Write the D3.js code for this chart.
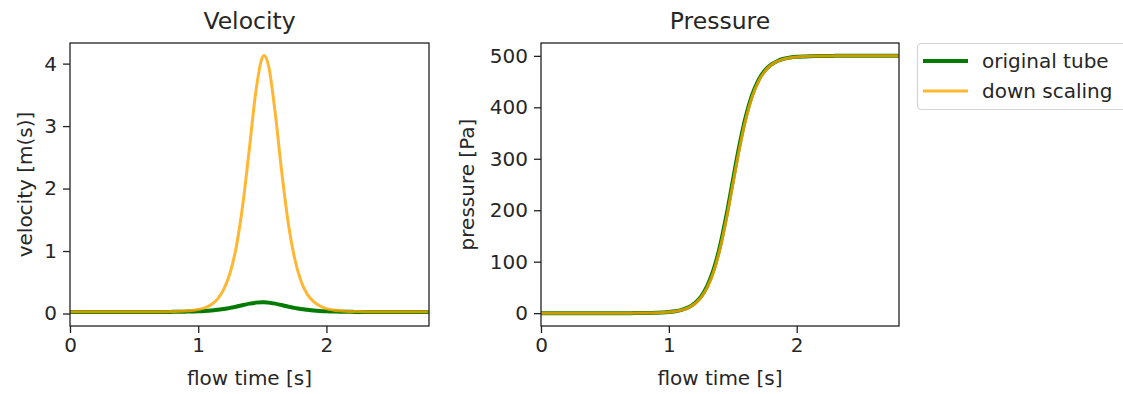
<!DOCTYPE html>
<html>
<head>
<meta charset="utf-8">
<script src="https://cdn.jsdelivr.net/npm/d3@7"></script>
<style>
  body { margin: 0; background: #fff; }
  svg { font-family: "DejaVu Sans", sans-serif; }
  .tick text { fill: #262626; }
</style>
</head>
<body>
<svg id="chart" width="1123" height="394"></svg>
<script>
// flow time samples [s]
const time = [0, 0.05, 0.1, 0.15, 0.2, 0.25, 0.3, 0.35, 0.4, 0.45, 0.5, 0.55, 0.6, 0.65, 0.7, 0.75,
  0.8, 0.85, 0.9, 0.95, 1.0, 1.05, 1.1, 1.15, 1.2, 1.25, 1.3, 1.35, 1.4, 1.45, 1.5, 1.515,
  1.55, 1.6, 1.65, 1.7, 1.75, 1.8, 1.85, 1.9, 1.95, 2.0, 2.05, 2.1, 2.15, 2.2,
  2.25, 2.3, 2.35, 2.4, 2.45, 2.5, 2.55, 2.6, 2.65, 2.7, 2.75, 2.8]

const velOriginal = [0.025, 0.025, 0.025, 0.025, 0.025, 0.025, 0.025, 0.025, 0.025, 0.025, 0.025, 0.025, 0.025, 0.025, 0.025, 0.025,
  0.027, 0.028, 0.030, 0.032, 0.036, 0.041, 0.048, 0.059, 0.072, 0.090, 0.112, 0.135, 0.158, 0.174, 0.180, 0.179,
  0.174, 0.158, 0.135, 0.112, 0.090, 0.072, 0.059, 0.048, 0.041, 0.036, 0.032, 0.030, 0.028, 0.027,
  0.025, 0.025, 0.025, 0.025, 0.025, 0.025, 0.025, 0.025, 0.025, 0.025, 0.025, 0.025]

const velScaled = [0.03, 0.03, 0.03, 0.03, 0.03, 0.03, 0.03, 0.03, 0.03, 0.03, 0.03, 0.03, 0.03, 0.03, 0.03, 0.03,
  0.033, 0.036, 0.040, 0.049, 0.064, 0.09, 0.14, 0.23, 0.39, 0.66, 1.10, 1.78, 2.66, 3.56, 4.10, 4.13,
  3.95, 3.22, 2.29, 1.48, 0.90, 0.53, 0.31, 0.19, 0.12, 0.078, 0.057, 0.045, 0.038, 0.034,
  0.032, 0.03, 0.03, 0.03, 0.03, 0.03, 0.03, 0.03, 0.03, 0.03, 0.03, 0.03]

const presOriginal = [0, 0, 0, 0, 0, 0, 0, 0, 0, 0, 0, 0, 0, 0, 0,
  0.1, 0.2, 0.4, 0.8, 1.3, 2.2,
  3.7, 6.4, 11.0, 18.8, 31.6, 52.4, 84.4, 130.1, 189.4, 256.9, 277.4,
  323.4, 380.2, 423.1, 452.5, 471.5, 483.1, 490.1, 494.3, 496.7, 498.1,
  498.9, 499.4, 499.7, 499.8, 499.9,
  500, 500, 500, 500, 500, 500, 500, 500, 500, 500, 500]

const presScaled = [0, 0, 0, 0, 0, 0, 0, 0, 0, 0, 0, 0, 0, 0, 0,
  0.1, 0.2, 0.4, 0.7, 1.2, 2.0,
  3.5, 6.1, 10.4, 17.8, 30.1, 49.9, 80.6, 124.9, 182.9, 250.0, 270.6,
  317.1, 375.1, 419.4, 450.1, 470.0, 482.2, 489.6, 494.0, 496.5, 498.0,
  498.8, 499.3, 499.6, 499.8, 499.9,
  500, 500, 500, 500, 500, 500, 500, 500, 500, 500, 500]

const xTicks = [0, 1, 2]
const velTicks = [0, 1, 2, 3, 4]
const presTicks = [0, 100, 200, 300, 400, 500]
const seriesNames = ['original tube', 'down scaling']
const seriesColors = ['#007a00', '#ffa500']

const svg = d3.select('#chart')
const fontSize = 20

function drawPanel (opts) {
  const x = d3.scaleLinear().domain([0, 2.8]).range([opts.left, opts.right])
  const y = d3.scaleLinear().domain(opts.yDomain).range([326, 43])
  const g = svg.append('g')

  const line = (vals) => d3.line()
    .x((d, i) => x(time[i]))
    .y(d => y(d))
    .curve(d3.curveMonotoneX)(vals)

  g.append('clipPath').attr('id', opts.id + '-clip')
    .append('rect').attr('x', opts.left).attr('y', 43)
    .attr('width', opts.right - opts.left).attr('height', 283)

  const lines = g.append('g').attr('clip-path', `url(#${opts.id}-clip)`)
  lines.append('path').attr('d', line(opts.series[0]))
    .attr('fill', 'none').attr('stroke', seriesColors[0]).attr('stroke-width', 4)
  lines.append('path').attr('d', line(opts.series[1]))
    .attr('fill', 'none').attr('stroke', seriesColors[1]).attr('stroke-width', 3)
    .attr('stroke-opacity', 0.8)

  const xAxis = g.append('g').attr('transform', 'translate(0,326)')
    .call(d3.axisBottom(x).tickValues(xTicks).tickFormat(d3.format('d')).tickSize(7).tickPadding(5))
  const yAxis = g.append('g').attr('transform', `translate(${opts.left},0)`)
    .call(d3.axisLeft(y).tickValues(opts.yTicks).tickFormat(d3.format('d')).tickSize(7).tickPadding(6))
  for (const a of [xAxis, yAxis]) {
    a.select('.domain').remove()
    a.selectAll('.tick line').attr('stroke', '#222').attr('stroke-width', 1.3)
    a.selectAll('.tick text').attr('font-size', fontSize).attr('font-family', 'DejaVu Sans')
  }

  g.append('rect').attr('x', opts.left).attr('y', 43)
    .attr('width', opts.right - opts.left).attr('height', 283)
    .attr('fill', 'none').attr('stroke', '#222').attr('stroke-width', 1.3)

  const cx = (opts.left + opts.right) / 2
  g.append('text').attr('x', cx).attr('y', 29).attr('text-anchor', 'middle')
    .attr('font-size', 23.5).attr('fill', '#262626').text(opts.title)
  g.append('text').attr('x', cx).attr('y', 385).attr('text-anchor', 'middle')
    .attr('font-size', fontSize).attr('fill', '#262626').text('flow time [s]')
  g.append('text').attr('transform', `translate(${opts.labelX},184.5) rotate(-90)`)
    .attr('text-anchor', 'middle').attr('dy', '0.35em')
    .attr('font-size', fontSize).attr('fill', '#262626').text(opts.yLabel)
}

drawPanel({
  id: 'vel', left: 70, right: 429, yDomain: [-0.2, 4.33], yTicks: velTicks,
  series: [velOriginal, velScaled], title: 'Velocity', yLabel: 'velocity [m(s)]', labelX: 25
})
drawPanel({
  id: 'pres', left: 541, right: 899, yDomain: [-25, 525], yTicks: presTicks,
  series: [presOriginal, presScaled], title: 'Pressure', yLabel: 'pressure [Pa]', labelX: 467
})

// legend
const legend = svg.append('g')
legend.append('rect').attr('x', 917.5).attr('y', 43.5).attr('width', 212).attr('height', 66)
  .attr('rx', 4).attr('fill', '#fff').attr('stroke', '#d4d4d4').attr('stroke-width', 1.2)
seriesNames.forEach((name, i) => {
  const ly = 61 + i * 30
  legend.append('line').attr('x1', 923).attr('x2', 968).attr('y1', ly).attr('y2', ly)
    .attr('stroke', seriesColors[i]).attr('stroke-width', i === 0 ? 4 : 3)
    .attr('stroke-opacity', i === 0 ? 1 : 0.8)
  legend.append('text').attr('x', 982).attr('y', ly).attr('dy', '0.35em')
    .attr('font-size', fontSize).attr('fill', '#262626').text(name)
})
</script>
</body>
</html>
